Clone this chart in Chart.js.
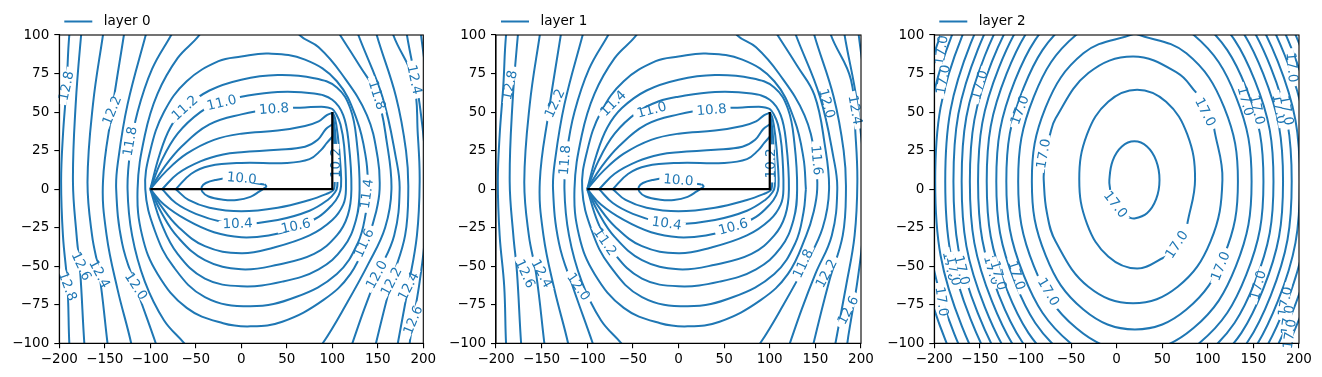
<!DOCTYPE html>
<html>
<head>
<meta charset="utf-8">
<script src="https://cdn.jsdelivr.net/npm/chart.js@4.4.0/dist/chart.umd.min.js"></script>
<style>
  html, body { margin: 0; padding: 0; background: #fff; }
  #wrap { position: relative; width: 1322px; height: 377px; overflow: hidden; }
  canvas { position: absolute; top: 0; }
</style>
</head>
<body>
<div id="wrap">
  <canvas id="c0" width="440" height="377" style="left:0px"></canvas>
  <canvas id="c1" width="440" height="377" style="left:440px"></canvas>
  <canvas id="c2" width="442" height="377" style="left:880px"></canvas>
</div>
<script>
const BLUE = '#1f77b4';
const FONT = '"DejaVu Sans", sans-serif';
Chart.defaults.elements.line.tension = 0.4;
Chart.defaults.elements.line.capBezierPoints = false;

const xTicks = [-200, -150, -100, -50, 0, 50, 100, 150, 200];
const yTicks = [-100, -75, -50, -25, 0, 25, 50, 75, 100];
const layerNames = ['layer 0', 'layer 1', 'layer 2'];

// black L-shaped line (layers 0 and 1)
const barrierX = [-100, 100, 100];
const barrierY = [0, 0, 50];

// layer 0 / 1 contours: [x, y] points per path
const c10_0 = [[[25, 3], [15, 4], [0, 6.5], [-15, 7], [-28, 6], [-39, 4], [-43.5, 1.5], [-43, -1.5], [-36, -4.8], [-20, -6.8], [-5, -7], [10, -5], [20, -1.5], [25, 0.5], [27.5, 1.8], [25.5, 3.2]]];
const c10_2 = [
  [[-72, 0], [-55, 10], [-35, 15], [0, 17], [50, 17], [75, 19.5], [87, 25], [94, 30], [100, 34]],
  [[-72, 0], [-58, -7], [-35, -12], [0, -14.3], [40, -12], [75, -7], [94, -3], [101, -0.8], [102.5, 2], [102.5, 20], [101.5, 40], [100, 50]]
];
const c10_4 = [
  [[-87, 0], [-70, 10], [-45, 18], [-20, 22.5], [0, 24], [40, 25.5], [70, 27.5], [84, 32], [93, 39], [100, 42]],
  [[-87, 0], [-72, -9], [-50, -16], [-20, -21.5], [0, -22.7], [40, -20], [75, -14], [95, -7], [103, -2], [105.5, 2], [105, 18], [103, 38], [100, 50]]
];
const c10_6 = [
  [[-100, 0], [-82, 12], [-60, 23], [-30, 32], [0, 36], [40, 38], [70, 41], [85, 44], [94, 48], [100, 49.5]],
  [[-100, 0], [-85, -10], [-60, -20], [-30, -28], [0, -31.2], [30, -30], [59, -25.5], [85, -18], [100, -10], [107, -4], [109.6, 2], [109, 15], [106, 35], [103, 46], [100, 50]]
];
const c10_8 = [[[-100, 0], [-85, 14], [-65, 28], [-35, 42], [0, 48.5], [36, 52], [70, 53], [88, 53.5], [95, 53], [100, 52], [104, 49], [109, 42], [113, 28], [115, 0], [112, -10], [100, -20], [75, -30], [35, -38], [0, -41.6], [-40, -37], [-70, -24], [-88, -11], [-100, 0]]];
const c11_0 = [[[-100, 0], [-88, 18], [-70, 36], [-45, 50], [-21.5, 57], [0, 60], [40, 63], [80, 62], [100, 58], [112, 48], [118, 30], [121, 0], [117, -17], [105, -30], [80, -42], [40, -49], [0, -52], [-40, -46], [-70, -31], [-88, -15], [-100, 0]]];
const c11_2 = [[[-100, 0], [-90, 22], [-78, 40], [-62, 52.6], [-35, 64], [0, 71], [40, 74], [80, 72], [105, 66], [120, 52], [127, 30], [130, 0], [126, -20], [112, -38], [85, -52], [45, -60], [0, -63], [-40, -58], [-70, -42], [-88, -22], [-100, 0]]];
const c11_4 = [[[139.6, 0], [137, -15], [128, -35], [105, -55], [60, -70], [10, -76], [-40, -70], [-75, -50], [-95, -27], [-105.5, 0], [-100, 25], [-85, 50], [-60, 70], [-25, 83], [0, 86], [30, 88], [70, 84], [105, 70], [127, 45], [137, 20], [139.6, 0]]];
const c11_6 = [[[-38, 110], [-46, 100], [-70, 85], [-92, 62], [-106, 35], [-114, 0], [-109, -30], [-92, -55], [-60, -77], [-20, -87], [10, -89], [45, -86], [90, -72], [120, -55], [140, -30], [148, -15], [152, 0], [150, 20], [138, 48], [110, 75], [85, 92], [64, 100], [56, 110]]];
const c11_8 = [
  [[-68, 110], [-77, 100], [-98, 78], [-114, 50], [-122, 25], [-125, 0], [-120, -30], [-106, -60], [-85, -85], [-62.6, -100], [-50, -110]],
  [[98, 110], [108.5, 100], [130, 80], [149, 61], [160, 30], [165, 0], [158, -25], [140, -48], [115, -75], [89.5, -100], [75, -110]]
];
const c12_0 = [
  [[-98, 115], [-105, 100], [-125, 55], [-135, 20], [-137.5, 0], [-131, -35], [-116, -63], [-94, -100], [-86, -115]],
  [[120, 115], [128.6, 100], [155, 60], [170, 20], [174, 0], [168, -30], [150, -55], [135, -78], [122, -100], [113, -115]]
];
const c12_2 = [
  [[-125, 115], [-129, 100], [-142, 51], [-152, 5], [-148, -30], [-136, -65], [-121, -100], [-117, -115]],
  [[143, 115], [148.8, 100], [170, 60], [181, 25], [183.5, 0], [180, -30], [165, -60], [148, -100], [143, -115]]
];
const c12_4 = [
  [[-148, 115], [-152, 100], [-163, 55], [-169, 5], [-164, -30], [-156, -55], [-147, -100], [-144, -115]],
  [[162, 115], [167, 100], [189, 71], [194, 35], [196, 5], [193, -30], [183.6, -63], [172, -100], [168, -115]]
];
const c12_6 = [
  [[-173, 115], [-176, 100], [-182, 55], [-185, 5], [-181, -30], [-177, -54], [-172.5, -100], [-170, -115]],
  [[179, 115], [182, 100], [196, 55], [204, 5], [202, -30], [196, -60], [189, -85], [185, -100], [183, -115]]
];
const c12_8 = [
  [[-185, 115], [-189, 100], [-192, 67], [-196, 35], [-198, 5], [-196, -30], [-191, -63], [-189, -100], [-187, -115]],
  [[195, 115], [197.5, 100], [206, 60], [212, 5], [209, -50], [205, -100], [203, -115]]
];
const layerAPaths = [c10_0, c10_2, c10_4, c10_6, c10_8, c11_0, c11_2, c11_4, c11_6, c11_8, c12_0, c12_2, c12_4, c12_6, c12_8].flat();

// contour labels: [text, x, y, rotation in degrees]
const labels0 = [
  ['12.8', -192, 67, -78], ['12.2', -142, 51, -68], ['11.8', -122, 31, -80], ['11.2', -62, 52.6, -42],
  ['11.0', -21.5, 56, -14], ['10.8', 36, 52, -4], ['10.0', 0.5, 7, 5], ['10.2', 104, 17, -90],
  ['10.4', -4, -22.5, -2], ['10.6', 60, -24, -12], ['11.4', 138, -3, -82], ['11.6', 135, -35, -65],
  ['11.8', 149, 61, 72], ['12.4', 190, 71, 78], ['12.0', 149, -55.5, -62], ['12.2', 165, -60, -62],
  ['12.4', 184, -63, -62], ['12.6', 189, -85, -68], ['12.6', -176, -50, 65], ['12.4', -156, -55, 62],
  ['12.8', -191, -63, 70], ['12.0', -116, -63, 57]
];
const labels1 = [
  ['12.8', -184.7, 67.5, -78], ['12.2', -135.4, 55.6, -65], ['11.8', -124.4, 18.8, -85], ['11.4', -71.4, 55.6, -45],
  ['11.0', -29.4, 51.3, -15], ['10.8', 36.3, 51.3, -5], ['10.0', -0.2, 5.8, 5], ['10.2', 101.4, 16.7, -90],
  ['10.4', -13, -22.3, 8], ['10.6', 60, -24.5, -15], ['11.2', -80.6, -34.2, 55], ['12.6', -168.2, -54.8, 65],
  ['12.4', -150, -54.8, 62], ['12.0', -109.8, -63.4, 55], ['12.0', 162.3, 55.6, 75], ['12.4', 193.4, 51.3, 80],
  ['11.6', 151.4, 18.8, 85], ['11.8', 136.8, -48.3, -65], ['12.2', 162.3, -54.8, -62], ['12.6', 186.1, -78.6, -62]
];

// layer 2 contours (ellipses)
const e1 = [[12.4, -18.1], [19.5, -19], [33.25, -15.65], [43.3, -6.5], [47, 6], [43.3, 18.5], [33.25, 27.65], [19.5, 31], [5.75, 27.65], [-4.3, 18.5], [-8, 6], [-7.1, -0.5]];
const e2 = [[77.5, -22.5], [86, 6.5], [77.5, 35.5], [54.25, 56.7], [22.5, 64.5], [-9.25, 56.7], [-32.5, 35.5], [-41, 6.5], [-32.5, -22.5], [-9.25, -43.7], [22.5, -51.5], [54.25, -43.7]];
const e3a = [[87.3, 62.6], [67, 75.3], [18, 86], [-31, 75.3], [-66.9, 46], [-74.1, 33.4]];
const e3b = [[-79.6, 13], [-80, 6], [-76.7, -14.7], [-66.9, -34], [-31, -63.3], [18, -74], [67, -63.3], [102.9, -34], [116, 6], [106.8, 39.8]];
const e4 = [[20, 101], [-36.5, 88.1], [-77.9, 53], [-93, 5], [-77.9, -43], [-36.5, -78.1], [20, -91], [76.5, -78.1], [117.9, -43], [133, 5], [117.9, 53], [76.5, 88.1], [20, 101]];
const e5 = [[20, 115], [-44, 100.3], [-90.8, 60], [-108, 5], [-90.8, -50], [-44, -90.3], [20, -105], [84, -90.3], [130.8, -50], [148, 5], [130.8, 60], [84, 100.3], [20, 115]];
const e6 = [[20, 126.3], [-50.5, 110], [-102.1, 65.65], [-121, 5], [-102.1, -55.65], [-50.5, -100], [20, -116.3], [90.5, -100], [142.1, -55.65], [161, 5], [142.1, 65.65], [90.5, 110], [20, 126.3]];
const e7 = [[20, 135.7], [-56, 118.2], [-111.6, 70.35], [-132, 5], [-111.6, -60.35], [-56, -108.2], [20, -125.7], [96, -108.2], [151.6, -60.35], [172, 5], [151.6, 70.35], [96, 118.2], [20, 135.7]];
const e8 = [[20, 144.8], [-61.25, 126.1], [-120.7, 74.9], [-142.5, 5], [-120.7, -64.9], [-61.25, -116.1], [20, -134.8], [101.25, -116.1], [160.7, -64.9], [182.5, 5], [160.7, 74.9], [101.25, 126.1], [20, 144.8]];
const e9 = [[20, 153], [-66, 133.2], [-129, 79], [-152, 5], [-129, -69], [-66, -123.2], [20, -143], [106, -123.2], [169, -69], [192, 5], [169, 79], [106, 133.2], [20, 153]];
const e10 = [[20, 160.7], [-70.5, 139.8], [-136.7, 82.85], [-161, 5], [-136.7, -72.85], [-70.5, -129.8], [20, -150.7], [110.5, -129.8], [176.7, -72.85], [201, 5], [176.7, 82.85], [110.5, 139.8], [20, 160.7]];
const e11 = [[20, 168.4], [-75, 146.5], [-144.5, 86.7], [-170, 5], [-144.5, -76.7], [-75, -136.5], [20, -158.4], [115, -136.5], [184.5, -76.7], [210, 5], [184.5, 86.7], [115, 146.5], [20, 168.4]];
const e12 = [[20, 176], [-79.5, 153.1], [-152.3, 90.5], [-179, 5], [-152.3, -80.5], [-79.5, -143.1], [20, -166], [119.5, -143.1], [192.3, -80.5], [219, 5], [192.3, 90.5], [119.5, 153.1], [20, 176]];
const e13 = [[20, 184], [-84, 160], [-160.1, 94.5], [-188, 5], [-160.1, -84.5], [-84, -150], [20, -174], [124, -150], [200.1, -84.5], [228, 5], [200.1, 94.5], [124, 160], [20, 184]];
const e14 = [[20, 193], [-89.5, 167.8], [-169.7, 99], [-199, 5], [-169.7, -89], [-89.5, -157.8], [20, -183], [129.5, -157.8], [209.7, -89], [239, 5], [209.7, 99], [129.5, 167.8], [20, 193]];
const e15 = [[20, 202], [-94.5, 175.6], [-178.3, 103.5], [-209, 5], [-178.3, -93.5], [-94.5, -165.6], [20, -192], [134.5, -165.6], [218.3, -93.5], [249, 5], [218.3, 103.5], [134.5, 175.6], [20, 202]];
const e16 = [[20, 211], [-100, 183.4], [-187.8, 108], [-220, 5], [-187.8, -98], [-100, -173.4], [20, -201], [140, -173.4], [227.8, -98], [260, 5], [227.8, 108], [140, 183.4], [20, 211]];
const layerCPaths = [e1, e2, e3a, e3b, e4, e5, e6, e7, e8, e9, e10, e11, e12, e13, e14, e15, e16];

const labels2 = [
  ['17.0', -192, 90, -82], ['17.0', -190, 71, -80], ['17.0', -150, 67.5, -75], ['17.0', -106, 51.3, -70],
  ['17.0', -80, 23, -80], ['17.0', -1.5, -10, 52], ['17.0', 97, 50, 63], ['17.0', 66, -36, -57],
  ['17.0', 141, 57, 75], ['17.0', 154, 51.5, 78], ['17.0', 178, 52, 80], ['17.0', 186, 51, 80],
  ['17.0', 192, 79, 85], ['17.0', 114, -50, -68], ['17.0', 155.4, -62.3, -75], ['17.0', 185, -73, -80],
  ['17.0', 188, -85, -82], ['17.0', 190, -94, -82], ['17.0', -183, -50, 78], ['17.0', -179, -53, 78],
  ['17.0', -170, -52.6, 76], ['17.0', -137, -52.6, 74], ['17.0', -130, -56, 74], ['17.0', -110, -56, 72],
  ['17.0', -75, -66.7, 60], ['17.0', -192, -73, 82]
];

function fmt(v) { return v < 0 ? '\u2212' + Math.abs(v) : String(v); }

const overlay = {
  id: 'overlay',
  afterDatasetsDraw(chart, args, o) {
    const { ctx, chartArea: a } = chart;
    const xs = chart.scales.x, ys = chart.scales.y;
    ctx.save();
    ctx.font = '13.5px ' + FONT;
    ctx.textAlign = 'center';
    ctx.textBaseline = 'middle';
    o.labels.forEach(([t, vx, vy, rot]) => {
      ctx.save();
      ctx.translate(xs.getPixelForValue(vx), ys.getPixelForValue(vy));
      ctx.rotate(rot * Math.PI / 180);
      const w = ctx.measureText(t).width;
      ctx.fillStyle = '#fff';
      ctx.fillRect(-w / 2 - 4, -3.5, w + 8, 7);
      ctx.fillStyle = BLUE;
      ctx.fillText(t, 0, 0.5);
      ctx.restore();
    });
    if (o.barrier) {
      ctx.strokeStyle = '#000';
      ctx.lineWidth = 2.2;
      ctx.beginPath();
      barrierX.forEach((vx, i) => {
        const px = xs.getPixelForValue(vx), py = ys.getPixelForValue(barrierY[i]);
        if (i) ctx.lineTo(px, py); else ctx.moveTo(px, py);
      });
      ctx.stroke();
    }
    ctx.strokeStyle = '#000';
    ctx.lineWidth = 1.1;
    ctx.strokeRect(a.left, a.top, a.right - a.left, a.bottom - a.top);
    // legend
    const ly = 21.5;
    ctx.strokeStyle = BLUE;
    ctx.lineWidth = 2;
    ctx.beginPath();
    ctx.moveTo(a.left + 5, ly);
    ctx.lineTo(a.left + 33, ly);
    ctx.stroke();
    ctx.fillStyle = '#000';
    ctx.textAlign = 'left';
    ctx.fillText(o.legend, a.left + 44.5, ly);
    ctx.restore();
  }
};

function build(id, geom, paths, labels, legend, barrier) {
  const datasets = paths.map(p => ({
    data: p.map(([x, y]) => ({ x, y })),
    borderColor: BLUE,
    borderWidth: 2,
    pointRadius: 0,
    tension: 0.4,
    capBezierPoints: false,
    fill: false,
    clip: 0
  }));
  return new Chart(document.getElementById(id), {
    type: 'line',
    data: { datasets },
    options: {
      responsive: false,
      animation: false,
      events: [],
      layout: { padding: { top: 35, right: geom.w - geom.right, left: 0, bottom: 0 } },
      plugins: {
        legend: { display: false },
        tooltip: { enabled: false },
        overlay: { labels, legend, barrier }
      },
      scales: {
        x: {
          type: 'linear', min: -200, max: 200,
          afterBuildTicks: s => { s.ticks = xTicks.map(value => ({ value })); },
          ticks: { color: '#000', font: { family: FONT, size: 13.5 }, callback: fmt, autoSkip: false, maxRotation: 0, padding: 3 },
          grid: { drawOnChartArea: false, tickLength: 5, color: '#000', lineWidth: 1.1 },
          border: { color: '#000', width: 1.1 },
          afterFit: s => { s.height = 377 - 343.3; }
        },
        y: {
          type: 'linear', min: -100, max: 100,
          afterBuildTicks: s => { s.ticks = yTicks.map(value => ({ value })); },
          ticks: { color: '#000', font: { family: FONT, size: 13.5 }, callback: fmt, autoSkip: false, padding: 5 },
          grid: { drawOnChartArea: false, tickLength: 5, color: '#000', lineWidth: 1.1 },
          border: { color: '#000', width: 1.1 },
          afterFit: s => { s.width = geom.left; }
        }
      }
    },
    plugins: [overlay]
  });
}

build('c0', { w: 440, left: 59.3, right: 423.3 }, layerAPaths, labels0, layerNames[0], true);
build('c1', { w: 440, left: 56, right: 421 }, layerAPaths, labels1, layerNames[1], true);
build('c2', { w: 442, left: 54.3, right: 419 }, layerCPaths, labels2, layerNames[2], false);
</script>
</body>
</html>
